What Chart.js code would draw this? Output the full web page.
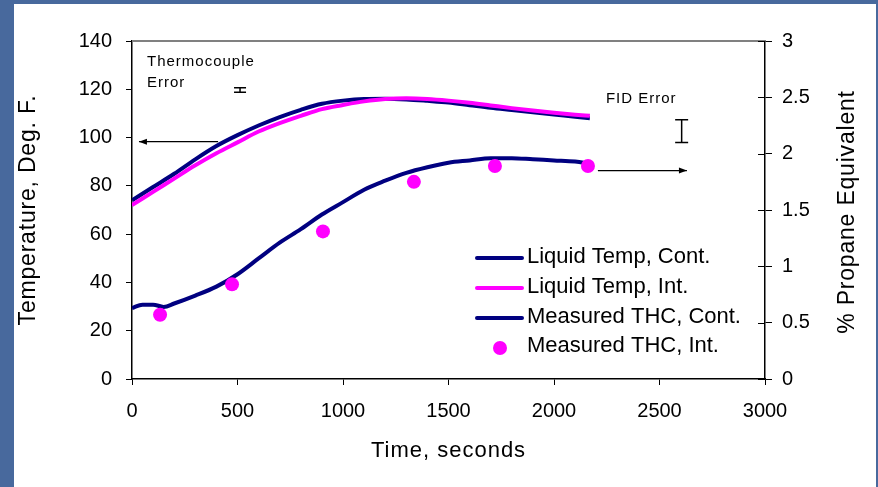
<!DOCTYPE html>
<html>
<head>
<meta charset="utf-8">
<script src="https://cdn.jsdelivr.net/npm/chart.js@4/dist/chart.umd.min.js"></script>
<style>
html,body{margin:0;padding:0;background:#48699d;}
#wrap{width:878px;height:487px;position:relative;}
</style>
</head>
<body>
<div id="wrap"><canvas id="c" width="878" height="487"></canvas></div>
<script>
// ---- data ----
const tempTimes = [0,100,200,300,400,500,600,700,800,900,1000,1100,1200,1300,1400,1500,1600,1700,1800,1900,2000,2100,2170];
const liquidTempCont = [74,79.5,85,91,96.5,101,105,108.5,111.5,114,115.3,116,116.1,115.8,115.2,114.5,113.4,112.3,111.4,110.5,109.6,108.6,108];
const liquidTempInt  = [72,77.5,83,88.5,93.5,98,102.5,106,109,111.8,113.5,115,116,116.3,116,115.3,114.4,113.3,112.2,111.2,110.3,109.5,109];
const thcTimes = [0,50,100,150,200,300,400,500,600,700,800,900,1000,1100,1200,1300,1400,1500,1600,1700,1800,1900,2000,2100,2170];
const thcCont  = [0.63,0.66,0.66,0.64,0.67,0.74,0.82,0.93,1.07,1.21,1.33,1.46,1.57,1.68,1.76,1.83,1.88,1.92,1.94,1.96,1.96,1.95,1.94,1.93,1.91];
const thcIntTimes = [133,474,905,1336,1720,2161];
const thcInt      = [0.57,0.84,1.31,1.75,1.89,1.89];
const xTicks = [0,500,1000,1500,2000,2500,3000];
const tempTicks = [0,20,40,60,80,100,120,140];
const propTicks = [0,0.5,1,1.5,2,2.5,3];
const seriesNames = ['Liquid Temp, Cont.','Liquid Temp, Int.','Measured THC, Cont.','Measured THC, Int.'];
// annotations in data units
const tcError = {t:512, temp:119.7, half:0.9};
const fidError = {t:2605, val:2.2, half:0.1};
const leftArrow = {from:408, to:33, temp:98.3};
const rightArrow = {from:2208, to:2630, val:1.85};

const NAVY = '#000080', MAG = '#ff00ff';
const FONT = '"Liberation Sans", Arial, sans-serif';

const zip = (xs, ys) => xs.map((x,i)=>({x, y: ys[i]}));
const plain = v => String(v);

const panelPlugin = {
  id: 'panel',
  beforeDraw(chart){
    const c = chart.ctx;
    c.save();
    c.fillStyle = '#48699d';
    c.fillRect(0,0,chart.width,chart.height);
    c.fillStyle = '#ffffff';
    c.fillRect(14,4,chart.width-16,chart.height-4);
    c.restore();
  },
  afterDraw(chart){
    const c = chart.ctx;
    const a = chart.chartArea;
    const sx = chart.scales.x, sy = chart.scales.y, sy2 = chart.scales.y2;
    c.save();
    // top frame line
    c.strokeStyle = '#808080'; c.lineWidth = 2;
    c.beginPath(); c.moveTo(a.left, a.top); c.lineTo(a.right, a.top); c.stroke();
    // inner halves of right axis ticks
    c.strokeStyle = '#000'; c.lineWidth = 1;
    propTicks.forEach(v=>{ const y = Math.round(sy2.getPixelForValue(v))+0.5; c.beginPath(); c.moveTo(a.right-7,y); c.lineTo(a.right,y); c.stroke(); });
    // thermocouple error bar
    c.lineWidth = 1.5;
    let x = sx.getPixelForValue(tcError.t);
    let y1 = sy.getPixelForValue(tcError.temp+tcError.half), y0 = sy.getPixelForValue(tcError.temp-tcError.half);
    c.beginPath(); c.moveTo(x-6,y1); c.lineTo(x+6,y1); c.moveTo(x-6,y0); c.lineTo(x+6,y0); c.moveTo(x,y1); c.lineTo(x,y0); c.stroke();
    // FID error bar
    x = sx.getPixelForValue(fidError.t);
    y1 = sy2.getPixelForValue(fidError.val+fidError.half); y0 = sy2.getPixelForValue(fidError.val-fidError.half);
    c.beginPath(); c.moveTo(x-6.5,y1); c.lineTo(x+6.5,y1); c.moveTo(x-6.5,y0); c.lineTo(x+6.5,y0); c.moveTo(x,y1); c.lineTo(x,y0); c.stroke();
    // arrows
    const arrow = (xa, xb, y) => {
      c.beginPath(); c.moveTo(xa,y); c.lineTo(xb,y); c.stroke();
      const d = Math.sign(xb-xa);
      c.beginPath(); c.moveTo(xb,y); c.lineTo(xb-d*8,y-3); c.lineTo(xb-d*8,y+3); c.closePath(); c.fillStyle='#000'; c.fill();
    };
    c.lineWidth = 1.3;
    arrow(sx.getPixelForValue(leftArrow.from), sx.getPixelForValue(leftArrow.to), sy.getPixelForValue(leftArrow.temp));
    arrow(sx.getPixelForValue(rightArrow.from), sx.getPixelForValue(rightArrow.to), sy2.getPixelForValue(rightArrow.val));
    // annotation text
    c.fillStyle = '#000';
    c.font = '15px ' + FONT;
    c.textBaseline = 'alphabetic'; c.textAlign = 'left';
    c.letterSpacing = '1px';
    c.fillText('Thermocouple', sx.getPixelForValue(71), sy.getPixelForValue(129.7));
    c.fillText('Error', sx.getPixelForValue(71), sy.getPixelForValue(121));
    c.fillText('FID Error', sx.getPixelForValue(2246), sy2.getPixelForValue(2.45));
    // axis titles
    c.font = '22px ' + FONT;
    c.letterSpacing = '1px';
    c.textAlign = 'center'; c.textBaseline = 'middle';
    c.fillText('Time, seconds', (a.left+a.right)/2, 451);
    c.font = '23px ' + FONT;
    c.letterSpacing = '0.8px';
    c.save(); c.translate(29, (a.top+a.bottom)/2); c.rotate(-Math.PI/2); c.fillText('Temperature, Deg. F.', 0, 0); c.restore();
    c.save(); c.translate(848, (a.top+a.bottom)/2 + 2); c.rotate(-Math.PI/2); c.fillText('% Propane Equivalent', 0, 0); c.restore();
    c.letterSpacing = '0px';
    // legend
    c.font = '22px ' + FONT;
    c.textAlign = 'left'; c.textBaseline = 'middle';
    const lx = 477, rows = [257, 287, 317, 346];
    const cols = [NAVY, MAG, NAVY, MAG];
    rows.forEach((ry, i) => {
      if (i < 3) {
        c.strokeStyle = cols[i]; c.lineWidth = 4; c.lineCap = 'round';
        c.beginPath(); c.moveTo(lx, ry+1); c.lineTo(lx+45, ry+1); c.stroke();
      } else {
        c.fillStyle = MAG; c.beginPath(); c.arc(lx+23, ry+2, 7, 0, Math.PI*2); c.fill();
      }
      c.fillStyle = '#000';
      c.fillText(seriesNames[i], lx+50, ry);
    });
    c.restore();
  }
};

new Chart(document.getElementById('c'), {
  type: 'line',
  data: {
    datasets: [
      { label: seriesNames[0], data: zip(tempTimes, liquidTempCont), yAxisID: 'y', borderColor: NAVY, borderWidth: 4, pointRadius: 0, tension: 0.4, cubicInterpolationMode: 'monotone', order: 3 },
      { label: seriesNames[1], data: zip(tempTimes, liquidTempInt), yAxisID: 'y', borderColor: MAG, borderWidth: 4, pointRadius: 0, tension: 0.4, cubicInterpolationMode: 'monotone', order: 2 },
      { label: seriesNames[2], data: zip(thcTimes, thcCont), yAxisID: 'y2', borderColor: NAVY, borderWidth: 4, pointRadius: 0, tension: 0.4, cubicInterpolationMode: 'monotone', order: 4 },
      { label: seriesNames[3], data: zip(thcIntTimes, thcInt), yAxisID: 'y2', showLine: false, pointRadius: 7, pointBackgroundColor: MAG, pointBorderColor: MAG, pointBorderWidth: 0, order: 1 }
    ]
  },
  options: {
    responsive: false,
    animation: false,
    layout: { padding: { top: 41, left: 0, right: 0, bottom: 0 } },
    plugins: { legend: { display: false }, tooltip: { enabled: false } },
    scales: {
      x: {
        type: 'linear', min: 0, max: 3000,
        afterBuildTicks: s => { s.ticks = xTicks.map(v=>({value:v})); },
        afterFit: s => { s.height = 108; },
        grid: { drawOnChartArea: false, tickLength: 6, color: '#000', lineWidth: 1 },
        border: { display: true, color: '#000', width: 1.5 },
        ticks: { color: '#000', font: { family: FONT, size: 20 }, padding: 14, maxRotation: 0, callback: plain }
      },
      y: {
        position: 'left', min: 0, max: 140,
        afterBuildTicks: s => { s.ticks = tempTicks.map(v=>({value:v})); },
        afterFit: s => { s.width = 132; },
        grid: { drawOnChartArea: false, tickLength: 6, color: '#000', lineWidth: 1 },
        border: { display: true, color: '#000', width: 1.5 },
        ticks: { color: '#000', font: { family: FONT, size: 20 }, padding: 14, callback: plain }
      },
      y2: {
        position: 'right', min: 0, max: 3,
        afterBuildTicks: s => { s.ticks = propTicks.map(v=>({value:v})); },
        afterFit: s => { s.width = 113; },
        grid: { drawOnChartArea: false, tickLength: 7, color: '#000', lineWidth: 1 },
        border: { display: true, color: '#000', width: 1.5 },
        ticks: { color: '#000', font: { family: FONT, size: 20 }, padding: 10, callback: plain }
      }
    }
  },
  plugins: [panelPlugin]
});
</script>
</body>
</html>
